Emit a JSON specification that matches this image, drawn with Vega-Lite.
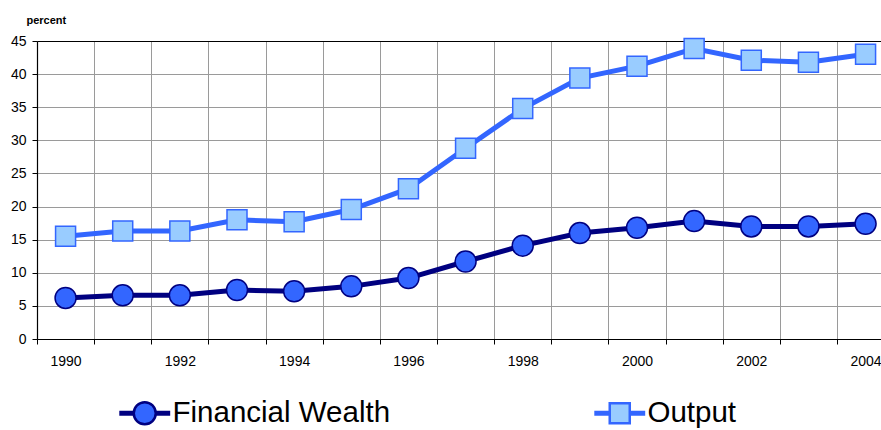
{
  "$schema": "https://vega.github.io/schema/vega-lite/v6.json",
  "width": 844,
  "height": 298,
  "autosize": {"type": "none"},
  "padding": {"left": 37, "top": 41, "right": 0, "bottom": 91},
  "background": "white",
  "config": {
    "view": {"stroke": null},
    "font": "Liberation Sans",
    "axis": {"labelFont": "Liberation Sans", "labelColor": "#000", "labelFontSize": 14, "domainColor": "#000", "tickColor": "#000", "tickSize": 5, "gridColor": "#9a9a9a", "gridWidth": 1, "domainWidth": 1.2}
  },
  "data": {"values": [
    {"year": 1990, "series": "Financial Wealth", "value": 6.2},
    {"year": 1991, "series": "Financial Wealth", "value": 6.6},
    {"year": 1992, "series": "Financial Wealth", "value": 6.6},
    {"year": 1993, "series": "Financial Wealth", "value": 7.4},
    {"year": 1994, "series": "Financial Wealth", "value": 7.2},
    {"year": 1995, "series": "Financial Wealth", "value": 7.95},
    {"year": 1996, "series": "Financial Wealth", "value": 9.2},
    {"year": 1997, "series": "Financial Wealth", "value": 11.7},
    {"year": 1998, "series": "Financial Wealth", "value": 14.1},
    {"year": 1999, "series": "Financial Wealth", "value": 16.0},
    {"year": 2000, "series": "Financial Wealth", "value": 16.8},
    {"year": 2001, "series": "Financial Wealth", "value": 17.8},
    {"year": 2002, "series": "Financial Wealth", "value": 17.0},
    {"year": 2003, "series": "Financial Wealth", "value": 17.0},
    {"year": 2004, "series": "Financial Wealth", "value": 17.4},
    {"year": 1990, "series": "Output", "value": 15.5},
    {"year": 1991, "series": "Output", "value": 16.3},
    {"year": 1992, "series": "Output", "value": 16.3},
    {"year": 1993, "series": "Output", "value": 18.0},
    {"year": 1994, "series": "Output", "value": 17.7},
    {"year": 1995, "series": "Output", "value": 19.55},
    {"year": 1996, "series": "Output", "value": 22.7},
    {"year": 1997, "series": "Output", "value": 28.8},
    {"year": 1998, "series": "Output", "value": 34.8},
    {"year": 1999, "series": "Output", "value": 39.4},
    {"year": 2000, "series": "Output", "value": 41.2},
    {"year": 2001, "series": "Output", "value": 43.85},
    {"year": 2002, "series": "Output", "value": 42.1},
    {"year": 2003, "series": "Output", "value": 41.8},
    {"year": 2004, "series": "Output", "value": 43.0}
  ]},
  "encoding": {
    "x": {"field": "year", "type": "quantitative",
      "scale": {"domain": [1989.5, 2004.27], "nice": false, "zero": false},
      "axis": {"title": null, "values": [1989.5, 1990.5, 1991.5, 1992.5, 1993.5, 1994.5, 1995.5, 1996.5, 1997.5, 1998.5, 1999.5, 2000.5, 2001.5, 2002.5, 2003.5],
        "labelExpr": "(datum.value + 0.5) % 2 == 0 ? '' + (datum.value + 0.5) : ''",
        "labelOffset": 28.57, "labelAlign": "center", "labelFlush": false, "labelOverlap": false, "labelBound": false, "labelPadding": 10, "grid": true}},
    "y": {"field": "value", "type": "quantitative",
      "scale": {"domain": [0, 45], "nice": false},
      "axis": {"values": [0, 5, 10, 15, 20, 25, 30, 35, 40, 45], "grid": true, "labelPadding": 6,
        "gridColor": {"condition": {"test": "datum.value == 45", "value": "#000"}, "value": "#9a9a9a"},
        "title": "percent", "titleAngle": 0, "titleFontWeight": "bold", "titleFontSize": 11, "titleFont": "Liberation Sans", "titleColor": "#000",
        "titleAlign": "left", "titleBaseline": "alphabetic", "titleX": -11, "titleY": -17.5}}
  },
  "resolve": {"scale": {"shape": "independent"}, "legend": {"shape": "independent"}},
  "layer": [
    {
      "transform": [{"filter": "datum.series == 'Output'"}],
      "mark": {"type": "line", "strokeWidth": 5, "stroke": "#3366ff"},
      "encoding": {}
    },
    {
      "transform": [{"filter": "datum.series == 'Financial Wealth'"}],
      "mark": {"type": "line", "strokeWidth": 5, "stroke": "#000080"},
      "encoding": {}
    },
    {
      "transform": [{"filter": "datum.series == 'Financial Wealth'"}],
      "mark": {"type": "point", "shape": "circle", "filled": true, "fill": "#3366ff", "stroke": "#000080", "strokeWidth": 1.5, "size": 441, "opacity": 1}
    },
    {
      "transform": [{"filter": "datum.series == 'Output'"}],
      "mark": {"type": "point", "shape": "square", "filled": true, "fill": "#99ccff", "stroke": "#3366ff", "strokeWidth": 1.5, "size": 400, "opacity": 1}
    },
    {
      "transform": [{"filter": "datum.series == 'Financial Wealth'"}],
      "mark": {"type": "point", "filled": true, "opacity": 0, "fill": "#3366ff", "stroke": "#000080", "strokeWidth": 2.5},
      "encoding": {
        "shape": {"field": "series", "type": "nominal",
          "scale": {"domain": ["Financial Wealth"], "range": [
            "M-2.2,-0.11H-1V0.11H-2.2Z M1,-0.11H2.2V0.11H1Z M1,0A1,1 0 1,1 -1,0A1,1 0 1,1 1,0Z"]},
          "legend": {"orient": "none", "legendX": 93, "legendY": 357.5, "direction": "horizontal", "title": null, "labelFontSize": 29.5, "labelFont": "Liberation Sans", "labelColor": "#000", "symbolSize": 484, "symbolStrokeWidth": 2.5, "labelOffset": 13, "labelLimit": 400, "symbolOpacity": 1}}
      }
    },
    {
      "transform": [{"filter": "datum.series == 'Output'"}],
      "mark": {"type": "point", "filled": true, "opacity": 0, "fill": "#99ccff", "stroke": "#3366ff", "strokeWidth": 2.5},
      "encoding": {
        "shape": {"field": "series", "type": "nominal",
          "scale": {"domain": ["Output"], "range": [
            "M-2.2,-0.11H-0.91V0.11H-2.2Z M0.91,-0.11H2.2V0.11H0.91Z M-0.91,-0.91H0.91V0.91H-0.91Z"]},
          "legend": {"orient": "none", "legendX": 568, "legendY": 357.5, "direction": "horizontal", "title": null, "labelFontSize": 29.5, "labelFont": "Liberation Sans", "labelColor": "#000", "symbolSize": 484, "symbolStrokeWidth": 2.5, "labelOffset": 13, "labelLimit": 400, "symbolOpacity": 1}}
      }
    }
  ]
}
